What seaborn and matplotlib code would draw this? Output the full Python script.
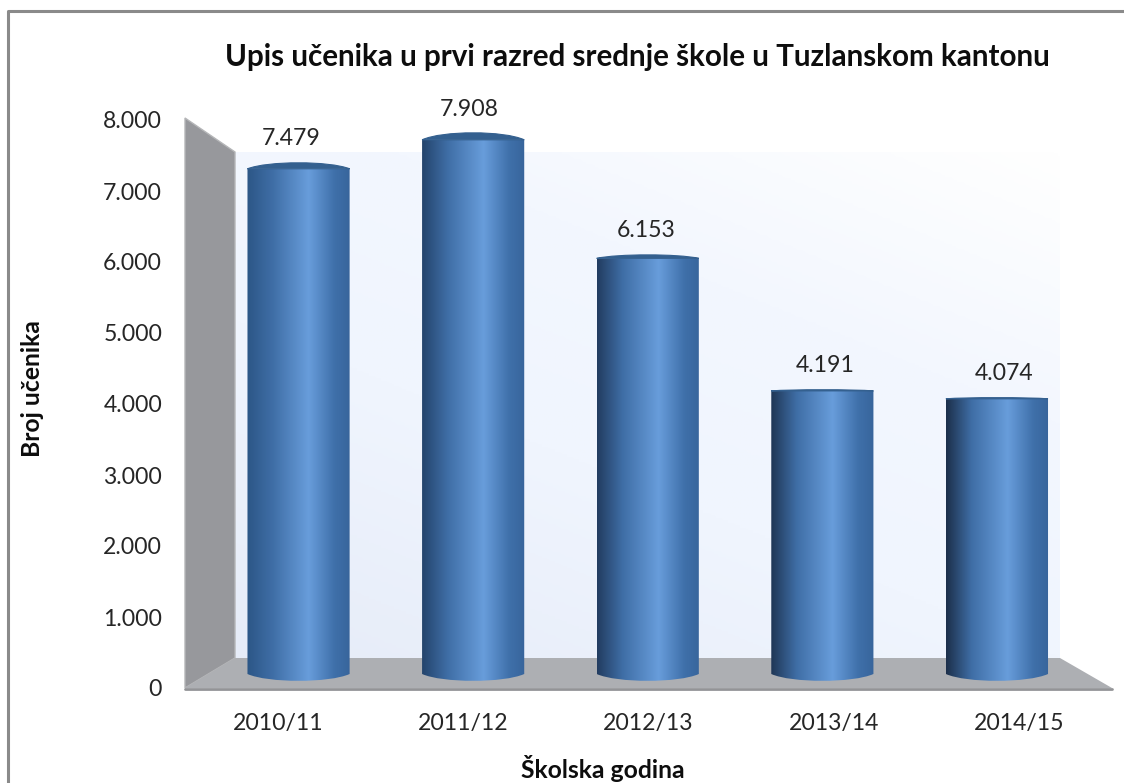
import numpy as np
import pandas as pd
import matplotlib
matplotlib.use("Agg")
import matplotlib.pyplot as plt
import seaborn as sns
from matplotlib.colors import LinearSegmentedColormap
from matplotlib.patches import Polygon, PathPatch
from matplotlib.path import Path
from matplotlib.ticker import FuncFormatter
from matplotlib.transforms import Affine2D

years = ["2010/11", "2011/12", "2012/13", "2013/14", "2014/15"]
upis = [7479, 7908, 6153, 4191, 4074]
title_text = "Upis učenika u prvi razred srednje škole u Tuzlanskom kantonu"
xlabel_text = "Školska godina"
ylabel_text = "Broj učenika"
ytick_values = [0, 1000, 2000, 3000, 4000, 5000, 6000, 7000, 8000]

W, H = 1124, 783
sns.set_theme(style="white")
plt.rcParams["font.family"] = ["Lato", "DejaVu Sans"]
fig = plt.figure(figsize=(W / 100, H / 100), dpi=100, facecolor="white")
px = Affine2D().scale(1, -1).translate(0, H)


def axes_px(x0, y_top, x1, y_bottom, **kw):
    return fig.add_axes([x0 / W, 1 - y_bottom / H, (x1 - x0) / W, (y_bottom - y_top) / H], **kw)


# outer border
fig.add_artist(plt.Line2D([8, 8, W], [H, 11, 11], transform=px, color="#8a8a8a", lw=2.2))

# frame axes: value scale and category ticks on the front plane of the 3D box
frame = axes_px(185, 120, 1112, 688)
frame.set_xlim(-0.5, 4.5)
frame.set_ylim(0, 8000)
frame.patch.set_alpha(0)
for s in frame.spines.values():
    s.set_visible(False)
frame.set_yticks(ytick_values)
frame.yaxis.set_major_formatter(FuncFormatter(lambda v, _: f"{int(v):,}".replace(",", ".")))
frame.set_xticks(range(len(years)))
frame.set_xticklabels(years)
frame.tick_params(axis="y", length=0, pad=16.5, labelsize=16.6, labelcolor="#262626")
frame.tick_params(axis="x", length=0, pad=18, labelsize=16.6, labelcolor="#262626")

# back wall gradient: white in the upper right, pale blue towards the lower left
bg = LinearSegmentedColormap.from_list(
    "wall", [(0, "#ffffff"), (0.32, "#f3f7fe"), (0.6, "#f0f5fe"), (1, "#e6ecf8")])
yy, xx = np.mgrid[0:1:200j, 0:1:200j]
wall = axes_px(235, 152, 1060, 658, zorder=-1)
wall.imshow(0.6 * yy + 0.4 * (1 - xx), cmap=bg, aspect="auto", vmin=0, vmax=1)
wall.axis("off")

# side wall and floor
fig.add_artist(Polygon([(185, 118), (235, 152), (235, 658), (185, 688)], closed=True,
                       transform=px, facecolor="#97989c", edgecolor="#b5b6b8", lw=1, zorder=-0.5))
fig.add_artist(Polygon([(185, 688), (235, 658), (1060, 658), (1112, 688)], closed=True,
                       transform=px, facecolor="#adafb3", edgecolor="none", zorder=-0.4))
fig.add_artist(plt.Line2D([185, 1112], [688.5, 688.5], transform=px, color="#939497", lw=2, zorder=-0.3))

# bars: value 0 at pixel row 674, 0.06755 px per pupil
u_per_px = 1 / 0.06755
bx = axes_px(211.25, 120, 1084.25, 694)
df = pd.DataFrame({"godina": years, "upis": upis})
sns.barplot(data=df, x="godina", y="upis", ax=bx, width=0.585, color="#4a7fbf", saturation=1)
ylim = (-(694 - 674) * u_per_px, (674 - 120) * u_per_px)
bx.axis("off")
bx.patch.set_alpha(0)

left_shades = ["#2c5686", "#24446c", "#223c60", "#1f3655", "#1c2f4a"]
label_dx = [-7.5, -4, -1.5, 2.5, 7]
label_dy = [30, 30, 28, 25, 25]
cap_px = [6, 7, 3.5, 1.2, 1.2]
for i, p in enumerate(bx.patches):
    x0, w, top = p.get_x(), p.get_width(), p.get_height()
    p.set_visible(False)
    cm = LinearSegmentedColormap.from_list(
        f"c{i}", [(0, left_shades[i]), (0.25, "#3f6ea6"), (0.6, "#689ddb"),
                  (0.85, "#3f70aa"), (1, "#38659b")])
    dy = 7 * u_per_px
    verts = [(x0, top), (x0 + w, top), (x0 + w, 0),
             (x0 + w * 0.8, -dy * 1.3), (x0 + w * 0.2, -dy * 1.3), (x0, 0), (x0, top)]
    codes = [Path.MOVETO, Path.LINETO, Path.LINETO,
             Path.CURVE4, Path.CURVE4, Path.CURVE4, Path.CLOSEPOLY]
    clip = PathPatch(Path(verts, codes), transform=bx.transData, facecolor="none", edgecolor="none")
    bx.add_patch(clip)
    im = bx.imshow(np.linspace(0, 1, 256)[None, :], cmap=cm, aspect="auto",
                   extent=[x0, x0 + w, -2 * dy, top], zorder=3)
    im.set_clip_path(clip)
    # upper half of the top ellipse
    h = cap_px[i] * u_per_px * 4 / 3
    cap_v = [(x0, top), (x0 + w * 0.2, top + h), (x0 + w * 0.8, top + h), (x0 + w, top), (x0, top)]
    cap_c = [Path.MOVETO, Path.CURVE4, Path.CURVE4, Path.CURVE4, Path.CLOSEPOLY]
    bx.add_patch(PathPatch(Path(cap_v, cap_c), facecolor="#34608f", edgecolor="#34608f",
                           lw=0.8, zorder=4))
    bx.annotate(f"{upis[i]:,}".replace(",", "."), (x0 + w / 2, top),
                xytext=(label_dx[i] / 1.389, label_dy[i] / 1.389),
                textcoords="offset points", ha="center", va="center", fontsize=16.6,
                color="#262626", annotation_clip=False)
bx.set_xlim(-0.5, 4.5)
bx.set_ylim(*ylim)

# texts
fig.text(637.5 / W, 1 - 57 / H, title_text, ha="center", va="center", fontsize=21.3,
         fontweight="bold", color="#0d0d0d")
fig.text(603 / W, 1 - 769 / H, xlabel_text, ha="center", va="center", fontsize=17.8,
         fontweight="bold", color="#0d0d0d")
fig.text(32 / W, 1 - 389 / H, ylabel_text, ha="center", va="center", rotation=90, fontsize=17.8,
         fontweight="bold", color="#0d0d0d")

fig.savefig("out.png", dpi=100, facecolor="white")
